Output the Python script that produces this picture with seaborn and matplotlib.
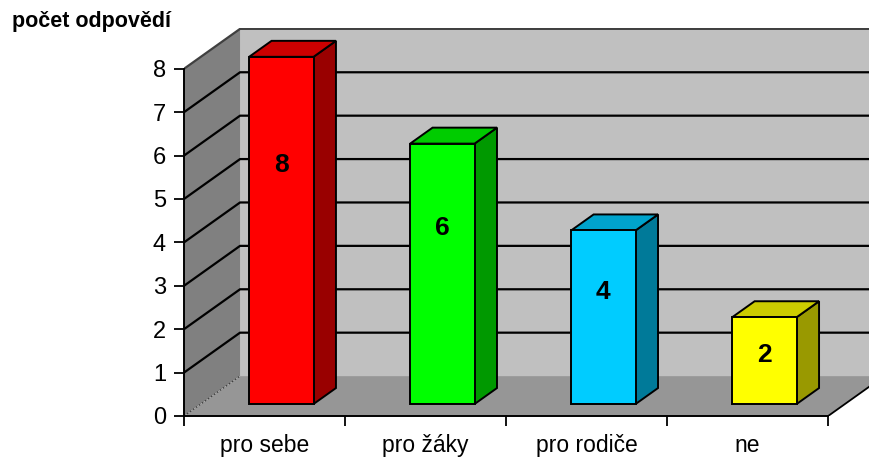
import matplotlib.pyplot as plt
import seaborn as sns
from matplotlib.patches import Polygon

categories = ['pro sebe', 'pro žáky', 'pro rodiče', 'ne']
values = [8, 6, 4, 2]
front_colors = ['#FF0000', '#00FF00', '#00CCFF', '#FFFF00']
top_colors = ['#CC0000', '#00CC00', '#00A3CC', '#CCCC00']
side_colors = ['#990000', '#009900', '#007A99', '#999900']
y_ticks = [0, 1, 2, 3, 4, 5, 6, 7, 8]

sns.set_style('white')
plt.rcParams['font.family'] = ['Liberation Sans', 'DejaVu Sans']
plt.rcParams['text.color'] = 'black'

# fake 3d depth of the chart box, in data units
dep_x, dep_y = 0.348, 0.92
bar_w = 0.4

fig = plt.figure(figsize=(8.7, 4.59), dpi=100)
ax = fig.add_axes([184 / 870, 43 / 459, 686 / 870, 388 / 459])

sns.barplot(x=categories, y=values, hue=categories, palette=front_colors, width=bar_w,
            saturation=1, edgecolor='black', linewidth=1.4, legend=False, ax=ax)
bars = list(ax.patches)

x0, x1 = -0.5, len(categories) - 0.5
ymax = y_ticks[-1]

# walls and floor
ax.add_patch(Polygon([(x0 + dep_x, dep_y), (x1 + 2, dep_y), (x1 + 2, ymax + dep_y), (x0 + dep_x, ymax + dep_y)],
                     closed=True, facecolor='#C0C0C0', linewidth=0, zorder=0))
ax.add_patch(Polygon([(x0, 0), (x0 + dep_x, dep_y), (x0 + dep_x, ymax + dep_y), (x0, ymax)],
                     closed=True, facecolor='#808080', linewidth=0, zorder=0))
ax.add_patch(Polygon([(x0, 0), (x1, 0), (x1 + dep_x, dep_y), (x0 + dep_x, dep_y)],
                     closed=True, facecolor='#969696', linewidth=0, zorder=0.5))
ax.plot([x1, x1 + dep_x], [0, dep_y], color='black', lw=1.3, zorder=0.6)
ax.plot([x0, x0 + dep_x], [0, dep_y], color='#404040', lw=1, ls=':', zorder=0.6)

# gridlines on left and back wall
for t in y_ticks[1:]:
    c = '#404040' if t == ymax else 'black'
    ax.plot([x0, x0 + dep_x, x1 + 2], [t, t + dep_y, t + dep_y], color=c, lw=1.6, zorder=1)

# bars: shift front face into the box, add side and top
for p, top_c, side_c in zip(bars, top_colors, side_colors):
    h = p.get_height()
    p.set_x(p.get_x() + 0.3 * dep_x)
    p.set_y(0.3 * dep_y)
    p.set_zorder(5)
    bx0 = p.get_x()
    bx1 = bx0 + p.get_width()
    by0 = p.get_y()
    by1 = by0 + h
    bdx, bdy = 0.4 * dep_x, 0.4 * dep_y
    ax.add_patch(Polygon([(bx1, by0), (bx1 + bdx, by0 + bdy), (bx1 + bdx, by1 + bdy), (bx1, by1)],
                         closed=True, facecolor=side_c, edgecolor='black', linewidth=1.4, zorder=4))
    ax.add_patch(Polygon([(bx0, by1), (bx1, by1), (bx1 + bdx, by1 + bdy), (bx0 + bdx, by1 + bdy)],
                         closed=True, facecolor=top_c, edgecolor='black', linewidth=1.4, zorder=4))
    ax.text(bx0 + p.get_width() / 2, by0 + 0.73 * h - 0.33, f'{h:.0f}', ha='center', va='center',
            fontsize=19, fontweight='bold', color='black', zorder=6)

ax.set_xlim(x0, x1 + 0.26)
ax.set_ylim(0, ymax + 0.94)
ax.set_xlabel('')
ax.set_ylabel('')

for s in ['top', 'right']:
    ax.spines[s].set_visible(False)
for s in ['left', 'bottom']:
    ax.spines[s].set_color('black')
    ax.spines[s].set_linewidth(1.4)
ax.spines['left'].set_bounds(0, ymax)
ax.spines['bottom'].set_bounds(x0, x1)

ax.set_yticks(y_ticks)
ax.tick_params(axis='y', left=True, length=7, width=1.3, color='black', labelsize=17, pad=6,
               labelcolor='black')
ax.set_xticks(range(len(categories)))
ax.set_xticklabels(categories)
ax.set_xticks([x0 + i for i in range(len(categories) + 1)], minor=True)
ax.tick_params(axis='x', which='major', length=0, labelsize=16.5, pad=13, labelcolor='black')
ax.tick_params(axis='x', which='minor', bottom=True, length=7, width=1.3, color='black')

fig.text(12 / 870, 1 - 22 / 459, 'počet odpovědí', fontsize=15.5, fontweight='bold',
         color='black', va='center', ha='left')

fig.savefig('out.png', dpi=100)
